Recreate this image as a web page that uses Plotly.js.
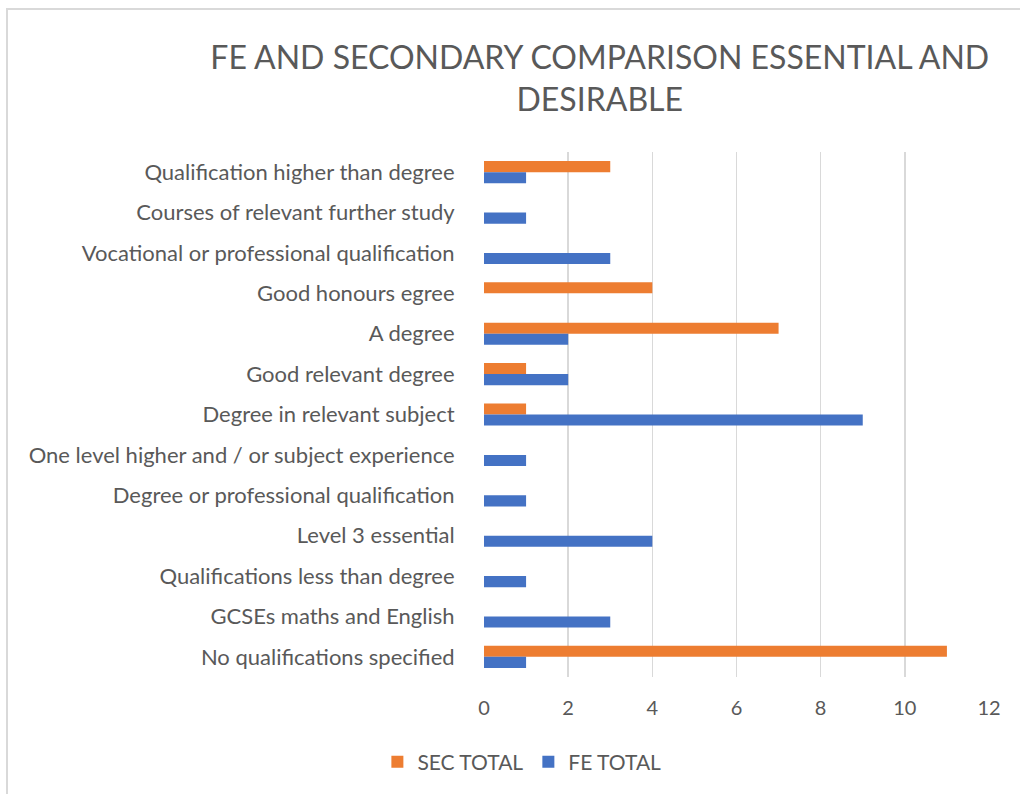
<!DOCTYPE html>
<html>
<head>
<meta charset="utf-8">
<script src="https://cdn.plot.ly/plotly-3.0.1.min.js"></script>
<style>
  html, body { margin: 0; padding: 0; background: #fff; }
  #chart { width: 1020px; height: 794px; position: relative; }
  #frame { position: absolute; left: 6px; top: 8px; width: 1014px; height: 786px;
           border-top: 2px solid #d9d9d9; border-left: 2px solid #d9d9d9; box-sizing: border-box;
           pointer-events: none; }
</style>
</head>
<body>
<div id="chart"></div>
<div id="frame"></div>
<script>
const categories = [
  "Qualification higher than degree",
  "Courses of relevant further study",
  "Vocational or professional qualification",
  "Good honours egree",
  "A degree",
  "Good relevant degree",
  "Degree in relevant subject",
  "One level higher and / or subject experience",
  "Degree or professional qualification",
  "Level 3 essential",
  "Qualifications less than degree",
  "GCSEs maths and English",
  "No qualifications specified"
];
const secTotal = [3, 0, 0, 4, 7, 1, 1, 0, 0, 0, 0, 0, 11];
const feTotal  = [1, 1, 3, 0, 2, 2, 9, 1, 1, 4, 1, 3, 1];
const xTicks = [0, 2, 4, 6, 8, 10, 12];

const textColor = "#595959";
const fontFam = "Lato, 'Open Sans', sans-serif";

const traces = [
  { type: "bar", orientation: "h", name: "SEC TOTAL", y: categories, x: secTotal,
    marker: { color: "#ED7D31" } },
  { type: "bar", orientation: "h", name: "FE TOTAL", y: categories, x: feTotal,
    marker: { color: "#4472C4" } }
];

const layout = {
  width: 1020, height: 794,
  margin: { l: 484, r: 31, t: 152, b: 117 },
  paper_bgcolor: "#ffffff", plot_bgcolor: "#ffffff",
  font: { family: fontFam, color: textColor, size: 21 },
  title: {
    text: "FE AND SECONDARY COMPARISON ESSENTIAL AND<br>DESIRABLE",
    x: 0.588, xanchor: "center", y: 0.913, yanchor: "middle",
    font: { family: fontFam, size: 32, color: textColor }
  },
  barmode: "group",
  bargap: 0.45,
  bargroupgap: 0,
  showlegend: true,
  legend: {
    orientation: "h", x: 0.075, xanchor: "center", y: -0.162, yanchor: "middle",
    font: { family: fontFam, size: 21, color: textColor }, traceorder: "normal",
    itemwidth: 30
  },
  xaxis: {
    range: [0, 12], tickvals: xTicks, ticktext: xTicks.map(String),
    showgrid: true, gridcolor: "#d9d9d9", gridwidth: 1.5,
    zeroline: false, showline: false,
    ticks: "outside", ticklen: 13, tickcolor: "rgba(0,0,0,0)",
    tickfont: { family: fontFam, size: 20, color: textColor }, fixedrange: true
  },
  yaxis: {
    type: "category", autorange: "reversed",
    showgrid: false, zeroline: false, showline: false,
    ticks: "outside", ticklen: 24, tickcolor: "rgba(0,0,0,0)",
    tickfont: { family: fontFam, size: 22, color: textColor }, fixedrange: true
  }
};

Plotly.newPlot("chart", traces, layout, { displayModeBar: false, staticPlot: true });
</script>
</body>
</html>
